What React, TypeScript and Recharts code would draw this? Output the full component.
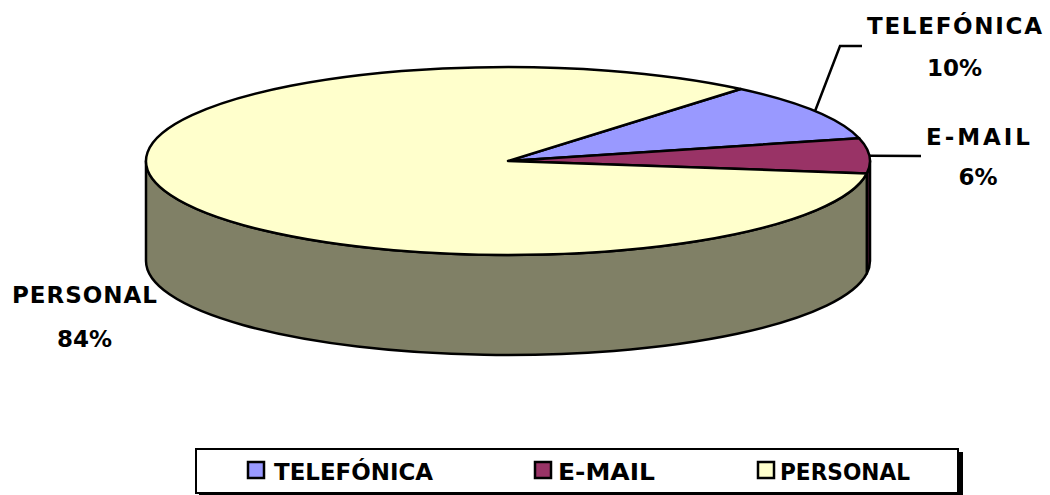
import { PieChart, Pie, Legend } from 'recharts';

const categories = ['TELEFÓNICA', 'E-MAIL', 'PERSONAL'];
const shares = [10, 6, 84];
const topColors = ['#9999FF', '#993366', '#FFFFCC'];
const wallColors = ['#4C4C80', '#4C1933', '#808066'];

const data = categories.map((name, i) => ({ name, value: shares[i], fill: topColors[i], wall: wallColors[i] }));

// the pie is flattened by hand, Recharts only does circles
const SQUASH = 94 / 362;
const DEPTH = 100;
const FONT = '"DejaVu Sans", Verdana, sans-serif';

const point = (cx: number, cy: number, r: number, deg: number, dy = 0) => {
  const a = (deg * Math.PI) / 180;
  return [cx + r * Math.cos(a), cy - r * SQUASH * Math.sin(a) + dy];
};

const Slice3D = (props: any) => {
  const { cx, cy, outerRadius: r, startAngle, endAngle, fill, wall } = props;
  const ry = r * SQUASH;
  const [x0, y0] = point(cx, cy, r, startAngle);
  const [x1, y1] = point(cx, cy, r, endAngle);
  const large = Math.abs(startAngle - endAngle) > 180 ? 1 : 0;
  const top = `M${cx},${cy} L${x0},${y0} A${r},${ry} 0 ${large} 1 ${x1},${y1} Z`;

  // only the front half of the rim shows, angles 0 to -180
  const from = Math.min(startAngle, 0);
  const to = Math.max(endAngle, -180);
  let side = null;
  if (from > to) {
    const [ax, ay] = point(cx, cy, r, from);
    const [bx, by] = point(cx, cy, r, to);
    side = (
      <path
        d={`M${ax},${ay} A${r},${ry} 0 0 1 ${bx},${by} L${bx},${by + DEPTH} A${r},${ry} 0 0 0 ${ax},${ay + DEPTH} Z`}
        fill={wall}
        stroke="#000"
        strokeWidth={2.5}
        strokeLinejoin="round"
      />
    );
  }
  return (
    <g>
      {side}
      <path d={top} fill={fill} stroke="#000" strokeWidth={2.5} strokeLinejoin="round" />
    </g>
  );
};

const labelSpots = [
  { x: 954.5, y1: 34, y2: 76, width: 175, elbow: [[840, 46], [862, 46]] },
  { x: 978, y1: 145, y2: 185, width: 104, elbow: [[921, 156]] },
  { x: 84.5, y1: 303, y2: 347, width: 145, elbow: [] },
];

const SliceLabel = (props: any) => {
  const { cx, cy, outerRadius, midAngle, index, name, value } = props;
  const spot = labelSpots[index];
  const [sx, sy] = point(cx, cy, outerRadius, midAngle);
  const leader = [[sx, sy], ...spot.elbow].map((p) => p.join(',')).join(' ');
  const textStyle = { fontFamily: FONT, fontSize: 23, fontWeight: 700, fill: '#000' };
  return (
    <g>
      {spot.elbow.length > 0 && <polyline points={leader} fill="none" stroke="#000" strokeWidth={2.5} />}
      <text x={spot.x} y={spot.y1} textAnchor="middle" textLength={spot.width} {...textStyle}>{name}</text>
      <text x={spot.x} y={spot.y2} textAnchor="middle" {...textStyle}>{`${value}%`}</text>
    </g>
  );
};

const swatchX = [53, 340, 563];
const legendTextX = [79, 363, 585];
const legendTextW = [159, 97, 130];

const LegendBox = (props: any) => {
  const items = props.payload || [];
  return (
    <svg width={772} height={50} style={{ display: 'block' }}>
      <rect x={4} y={4} width={764} height={45} fill="#000" />
      <rect x={1} y={1} width={762} height={44} fill="#fff" stroke="#000" strokeWidth={2} />
      {items.map((item: any, i: number) => (
        <g key={item.value}>
          <rect x={swatchX[i]} y={14} width={16} height={16} fill={item.color} stroke="#000" strokeWidth={2.5} />
          <text
            x={legendTextX[i]}
            y={32}
            fontFamily={FONT}
            fontSize={23}
            fontWeight={700}
            textLength={legendTextW[i]}
            lengthAdjust="spacingAndGlyphs"
          >
            {item.value}
          </text>
        </g>
      ))}
    </svg>
  );
};

export default function App() {
  return (
    <div style={{ position: 'absolute', left: 0, top: 0 }}>
      <PieChart width={1050} height={495} margin={{ top: 0, right: 0, bottom: 0, left: 0 }}>
        <Pie
          data={data}
          dataKey="value"
          nameKey="name"
          cx={508}
          cy={161}
          outerRadius={362}
          startAngle={50}
          endAngle={-310}
          shape={Slice3D}
          label={SliceLabel}
          labelLine={false}
          isAnimationActive={false}
        />
        <Legend
          content={LegendBox}
          itemSorter={null}
          wrapperStyle={{ position: 'absolute', left: 195, top: 448, width: 772, height: 50, bottom: 'auto' }}
        />
      </PieChart>
    </div>
  );
}
